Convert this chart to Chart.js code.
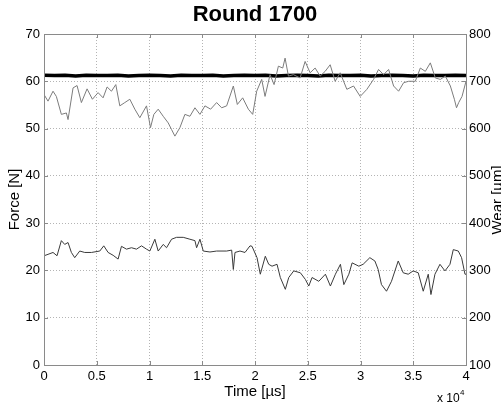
<!DOCTYPE html>
<html>
<head>
<meta charset="utf-8">
<script src="https://cdn.jsdelivr.net/npm/chart.js@4/dist/chart.umd.min.js"></script>
<style>
    body { margin: 0; background: #fff; overflow: hidden; }
    #wrap { width: 501px; height: 406px; position: relative; }
</style>
</head>
<body>
<div id="wrap"><canvas id="roundChart"></canvas></div>
<script>
// time in µs, force in N, wear in µm
const upperTime = [0, 380, 855, 1171, 1646, 2121, 2279, 2754, 3133, 3545, 4083, 4589, 5127, 5602, 5982, 6393, 6805, 7185, 7659, 8134,
    8609, 9084, 9717, 10096, 10413, 10824, 11299, 11774, 12090, 12407, 12882, 13356, 13831, 14306, 14781, 15255, 15793, 16363, 16838, 17313,
    17946, 18325, 18832, 19370, 19781, 20161, 20636, 20952, 21427, 21807, 22218, 22630, 22852, 23168, 23643, 24276, 24750, 25225, 25700, 26175,
    26649, 27124, 27599, 28074, 28707, 29340, 29972, 30605, 31238, 31713, 32188, 32663, 33137, 33612, 34087, 34562, 35195, 35670, 36144, 36619,
    37094, 37569, 38043, 38518, 38898, 39100, 39307, 39624, 40000];
const upperForce = [57.2, 55.8, 57.9, 56.8, 53.0, 53.3, 51.9, 58.6, 59.1, 55.5, 58.4, 56.2, 57.6, 56.5, 58.8, 57.9, 59.3, 54.8, 55.5, 56.2,
    54.1, 52.3, 54.8, 50.2, 53.0, 54.1, 52.6, 51.2, 49.8, 48.4, 50.2, 53.0, 52.6, 54.4, 53.0, 54.8, 54.1, 55.5, 54.4, 54.8,
    59.0, 55.1, 56.5, 54.1, 53.0, 57.9, 60.4, 56.8, 61.4, 59.3, 63.2, 62.8, 64.9, 61.1, 61.4, 60.7, 64.2, 61.8, 62.8, 61.1,
    62.1, 63.5, 60.0, 61.8, 58.3, 59.0, 56.8, 58.3, 60.4, 62.5, 61.4, 62.5, 59.0, 57.9, 59.7, 60.0, 60.0, 62.8, 62.1, 63.9,
    60.7, 60.4, 61.1, 59.0, 56.2, 54.4, 55.5, 56.8, 60.0];

const lowerTime = [0, 380, 855, 1234, 1646, 1962, 2279, 2595, 2912, 3386, 3861, 4494, 5286, 5665, 6077, 6552, 7026, 7343, 7817, 8292,
    8767, 9242, 9717, 10033, 10508, 10824, 11299, 11616, 12090, 12565, 13198, 13831, 14306, 14464, 14781, 15097, 15730, 16363, 17313, 17788,
    17946, 18104, 18578, 19053, 19528, 19716, 20190, 20503, 20977, 21300, 21613, 22088, 22401, 22876, 23199, 23673, 24300, 24774, 25097, 25410,
    26046, 26673, 27147, 27622, 28097, 28420, 28894, 29207, 29843, 30251, 30887, 31362, 31675, 31988, 32463, 32938, 33574, 34048, 34523, 34998,
    35472, 35947, 36421, 36677, 37057, 37531, 38006, 38481, 38794, 39269, 39582, 39905, 40000];
const lowerForce = [23.1, 23.4, 23.8, 23.1, 26.3, 25.5, 25.9, 23.8, 22.7, 24.1, 23.8, 23.8, 24.1, 25.2, 23.8, 23.2, 22.4, 25.1, 24.5, 24.8,
    24.5, 25.2, 24.5, 24.1, 26.6, 24.1, 25.5, 24.8, 26.6, 27.0, 27.0, 26.6, 26.3, 24.8, 26.6, 24.1, 23.9, 24.1, 24.1, 24.3,
    20.2, 23.8, 24.1, 23.8, 25.2, 25.1, 22.7, 19.2, 23.0, 21.3, 20.9, 21.3, 18.5, 16.0, 18.5, 19.9, 19.5, 18.1, 16.7, 18.5,
    17.7, 19.2, 16.7, 19.2, 21.3, 17.0, 19.2, 21.6, 20.9, 21.3, 22.7, 22.0, 20.2, 17.0, 15.6, 17.7, 22.0, 19.5, 19.2, 19.9,
    19.5, 15.6, 19.2, 14.9, 19.2, 21.3, 19.9, 21.3, 24.4, 24.1, 22.7, 19.2, 19.2];

const wearTime = [0, 1000, 2000, 3000, 4000, 5000, 6000, 7000, 8000, 9000, 10000, 11000, 12000, 13000, 14000, 15000, 16000, 17000, 18000, 19000,
    20000, 21000, 22000, 23000, 24000, 25000, 26000, 27000, 28000, 29000, 30000, 31000, 32000, 33000, 34000, 35000, 36000, 37000, 38000, 39000, 40000];
const wear = [713, 712, 713, 711, 713, 712, 712, 713, 711, 712, 713, 712, 711, 713, 712, 712, 713, 711, 712, 713,
    712, 713, 711, 712, 713, 712, 711, 713, 712, 712, 713, 711, 712, 713, 712, 711, 713, 712, 712, 713, 712];

const xTicks = [0, 5000, 10000, 15000, 20000, 25000, 30000, 35000, 40000];
const forceTicks = [0, 10, 20, 30, 40, 50, 60, 70];
const wearTicks = [100, 200, 300, 400, 500, 600, 700, 800];

const FONT = 'Arial, "Liberation Sans", Helvetica, sans-serif';
const GRID = '#b4b4b4';
const AXIS = '#8a8a8a';

function toPoints(xs, ys) {
    return xs.map((x, i) => ({ x: x, y: ys[i] }));
}

const matlabFrame = {
    id: 'matlabFrame',
    afterDraw(chart) {
        const { ctx, chartArea: a, scales } = chart;
        ctx.save();
        ctx.strokeStyle = AXIS;
        ctx.lineWidth = 1;
        ctx.beginPath();
        xTicks.forEach(t => {
            const x = Math.round(scales.x.getPixelForValue(t)) + 0.5;
            ctx.moveTo(x, a.bottom); ctx.lineTo(x, a.bottom - 4);
            ctx.moveTo(x, a.top); ctx.lineTo(x, a.top + 4);
        });
        forceTicks.forEach(t => {
            const y = Math.round(scales.y.getPixelForValue(t)) + 0.5;
            ctx.moveTo(a.left, y); ctx.lineTo(a.left + 4, y);
        });
        wearTicks.forEach(t => {
            const y = Math.round(scales.y2.getPixelForValue(t)) + 0.5;
            ctx.moveTo(a.right, y); ctx.lineTo(a.right - 4, y);
        });
        ctx.stroke();
        ctx.strokeRect(Math.round(a.left) + 0.5, Math.round(a.top) + 0.5,
            Math.round(a.right - a.left), Math.round(a.bottom - a.top));

        ctx.fillStyle = '#000';
        ctx.textAlign = 'center';
        ctx.textBaseline = 'middle';
        ctx.font = 'bold 22px ' + FONT;
        ctx.fillText('Round 1700', 255, 15);

        // right axis title, cut by the canvas edge like the original
        ctx.save();
        ctx.translate(498, 200);
        ctx.rotate(-Math.PI / 2);
        ctx.font = '15px ' + FONT;
        ctx.fillText('Wear [µm]', 0, 0);
        ctx.restore();

        ctx.textAlign = 'left';
        ctx.font = '12px ' + FONT;
        ctx.fillText('x 10', 437, 399);
        ctx.font = '8px ' + FONT;
        ctx.fillText('4', 460, 393);
        ctx.restore();
    }
};

new Chart(document.getElementById('roundChart'), {
    type: 'line',
    data: {
        datasets: [
            {
                label: 'Force upper',
                data: toPoints(upperTime, upperForce),
                yAxisID: 'y',
                borderColor: '#7c7c7c',
                borderWidth: 1,
                pointRadius: 0,
                tension: 0,
                order: 1
            },
            {
                label: 'Force lower',
                data: toPoints(lowerTime, lowerForce),
                yAxisID: 'y',
                borderColor: '#3a3a3a',
                borderWidth: 1,
                pointRadius: 0,
                tension: 0,
                order: 2
            },
            {
                label: 'Wear',
                data: toPoints(wearTime, wear),
                yAxisID: 'y2',
                borderColor: '#000',
                borderWidth: 3.5,
                pointRadius: 0,
                tension: 0,
                order: 3
            }
        ]
    },
    options: {
        responsive: true,
        maintainAspectRatio: false,
        animation: false,
        layout: { padding: { top: 34, left: 0, right: 0, bottom: 0 } },
        plugins: { legend: { display: false }, tooltip: { enabled: false } },
        scales: {
            x: {
                type: 'linear',
                min: 0, max: 40000,
                afterFit: s => { s.height = 41; },
                afterBuildTicks: s => { s.ticks = xTicks.map(v => ({ value: v })); },
                ticks: {
                    color: '#000', font: { family: FONT, size: 13 }, padding: 4,
                    maxRotation: 0, autoSkip: false,
                    callback: v => String(v / 10000)
                },
                grid: { color: GRID, drawTicks: false },
                border: { display: false, dash: [1, 2] },
                title: { display: true, text: 'Time [µs]', color: '#000', font: { family: FONT, size: 15 }, padding: { top: 0, bottom: 5 } }
            },
            y: {
                position: 'left',
                min: 0, max: 70,
                afterFit: s => { s.width = 44; },
                afterBuildTicks: s => { s.ticks = forceTicks.map(v => ({ value: v })); },
                ticks: { color: '#000', font: { family: FONT, size: 13 }, padding: 4 },
                grid: { color: GRID, drawTicks: false },
                border: { display: false, dash: [1, 2] },
                title: { display: true, text: 'Force [N]', color: '#000', font: { family: FONT, size: 15 }, padding: { top: 6, bottom: 0 } }
            },
            y2: {
                position: 'right',
                min: 100, max: 800,
                afterFit: s => { s.width = 35; },
                afterBuildTicks: s => { s.ticks = wearTicks.map(v => ({ value: v })); },
                ticks: { color: '#000', font: { family: FONT, size: 13 }, padding: 3 },
                grid: { drawOnChartArea: false, drawTicks: false },
                border: { display: false }
            }
        }
    },
    plugins: [matlabFrame]
});
</script>
</body>
</html>
